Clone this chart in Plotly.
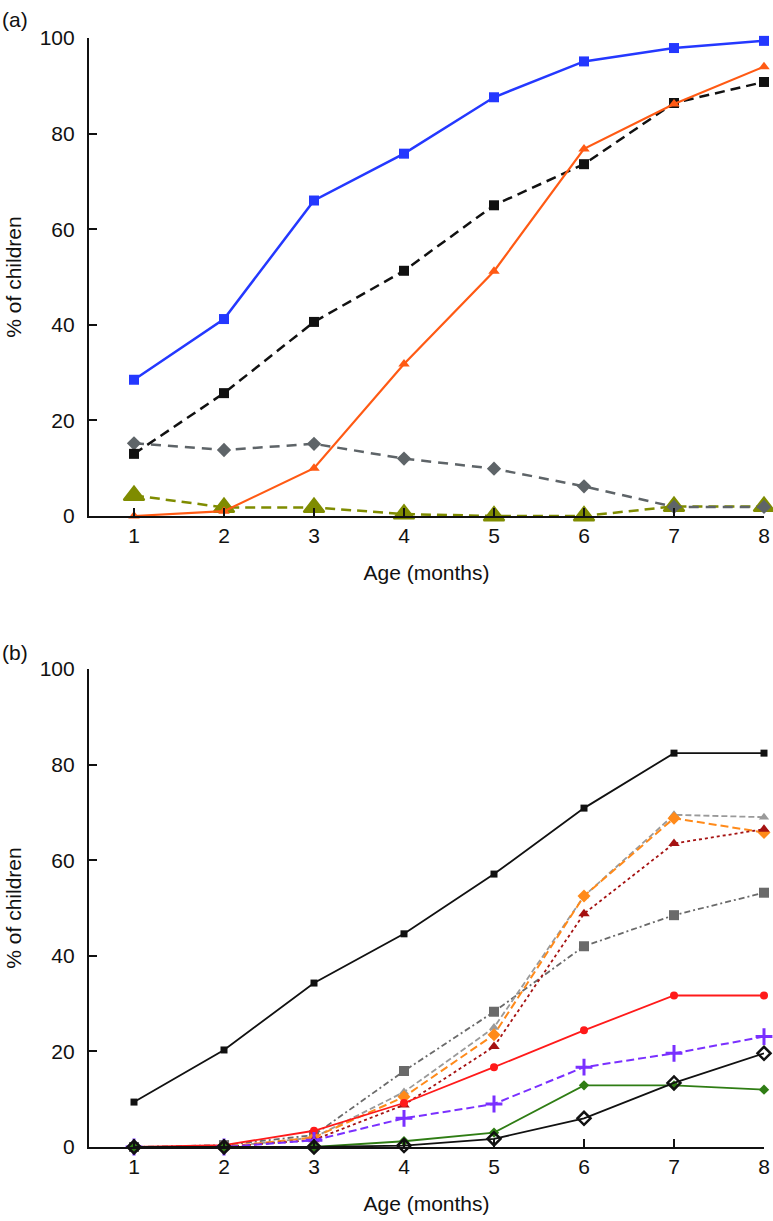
import plotly.graph_objects as go

ages = [1, 2, 3, 4, 5, 6, 7, 8]
x_tick_labels = ["1", "2", "3", "4", "5", "6", "7", "8"]
y_ticks = [0, 20, 40, 60, 80, 100]

# Panel (a)
a_blue = [28.5, 41.2, 66.0, 75.8, 87.6, 95.1, 97.9, 99.4]
a_black = [13.0, 25.7, 40.6, 51.3, 65.0, 73.6, 86.4, 90.8]
a_orange = [0.0, 1.0, 10.0, 31.8, 51.2, 76.8, 86.2, 94.0]
a_gray = [15.2, 13.8, 15.1, 12.0, 9.9, 6.2, 1.9, 1.9]
a_olive = [4.3, 1.8, 1.8, 0.4, 0.0, 0.0, 2.0, 2.0]

# Panel (b)
b_black = [9.4, 20.3, 34.3, 44.6, 57.1, 70.9, 82.4, 82.4]
b_gray_sq = [0.0, 0.4, 2.5, 15.9, 28.3, 42.0, 48.5, 53.2]
b_lgray_tri = [0.0, 0.0, 2.0, 11.5, 25.0, 52.5, 69.5, 69.0]
b_orange = [0.0, 0.0, 2.0, 10.5, 23.5, 52.5, 68.8, 65.8]
b_darkred = [0.0, 0.0, 1.5, 8.8, 21.0, 48.8, 63.5, 66.5]
b_red = [0.0, 0.4, 3.4, 9.2, 16.7, 24.4, 31.7, 31.7]
b_purple = [0.0, 0.0, 1.4, 6.0, 9.0, 16.7, 19.6, 23.1]
b_green = [0.0, 0.0, 0.0, 1.2, 3.0, 12.9, 12.9, 12.0]
b_open = [0.0, 0.0, 0.0, 0.3, 1.7, 6.0, 13.4, 19.6]

fig = go.Figure()

def add(y, color, symbol, size, dash, width, axis, mline=None):
    xa, ya = axis
    marker = dict(symbol=symbol, size=size, color=color)
    if mline:
        marker["line"] = mline
    fig.add_trace(go.Scatter(
        x=ages, y=y, mode="lines+markers",
        line=dict(color=color, width=width, dash=dash),
        marker=marker, xaxis=xa, yaxis=ya, cliponaxis=False,
        showlegend=False, hoverinfo="x+y"))

A = ("x", "y")
B = ("x2", "y2")

add(a_olive, "#7f8c00", "triangle-up", 18, "10px,6px", 2.5, A,
    mline=dict(color="#7f8c00", width=2))
add(a_gray, "#5e6468", "diamond", 11, "10px,7px", 2.5, A)
add(a_black, "#111111", "square", 10, "10px,6px", 2.5, A)
add(a_orange, "#ff5a14", "triangle-up", 10, "solid", 2.2, A)
add(a_blue, "#2438ff", "square", 10, "solid", 2.5, A)

add(b_black, "#111111", "square", 7, "solid", 1.8, B)
add(b_gray_sq, "#6a6a6a", "square", 10, "6px,3px,2px,3px", 1.8, B)
add(b_lgray_tri, "#9a9a9a", "triangle-up", 9, "6px,3px", 1.8, B)
add(b_orange, "#ff8a1a", "diamond", 10, "8px,4px", 2.0, B)
add(b_darkred, "#a51212", "triangle-up", 10, "3px,3px", 1.8, B)
add(b_red, "#ff1a1a", "circle", 8, "solid", 1.8, B)
add(b_purple, "#7a30ff", "cross-thin", 12, "8px,4px", 2.0, B,
    mline=dict(color="#7a30ff", width=3))
add(b_green, "#2f7d14", "diamond", 8, "solid", 1.8, B)
add(b_open, "#111111", "diamond-open", 10, "solid", 1.8, B,
    mline=dict(color="#111111", width=2.5))

font = dict(family="Liberation Sans, Arial, sans-serif", size=21, color="#111111")

xcommon = dict(range=[0.5, 8.0], tickvals=ages, ticktext=x_tick_labels,
               showline=True, linecolor="#111111", linewidth=2.2,
               ticks="inside", ticklen=8, tickwidth=2, tickcolor="#111111",
               showgrid=False, zeroline=False, tickfont=font,
               ticklabelstandoff=0, automargin=False,
               title=dict(text="Age (months)", font=font, standoff=19))
ycommon = dict(range=[0, 100], tickvals=y_ticks,
               showline=True, linecolor="#111111", linewidth=2.2,
               ticks="inside", ticklen=8, tickwidth=2, tickcolor="#111111",
               showgrid=False, zeroline=False, tickfont=font,
               ticklabelstandoff=8, automargin=False,
               title=dict(text="% of children", font=font, standoff=12))

fig.update_layout(
    width=773, height=1221,
    margin=dict(l=89, r=9, t=38, b=74),
    paper_bgcolor="white", plot_bgcolor="white",
    font=font,
    xaxis=dict(domain=[0, 1], anchor="y", **xcommon),
    yaxis=dict(domain=[0.569, 1.0], anchor="x", **ycommon),
    xaxis2=dict(domain=[0, 1], anchor="y2", **xcommon),
    yaxis2=dict(domain=[0.0, 0.431], anchor="x2", **ycommon),
    annotations=[
        dict(text="(a)", xref="paper", yref="paper", x=-89/675, y=(1147-20)/1109,
             xanchor="left", yanchor="middle", showarrow=False, font=font),
        dict(text="(b)", xref="paper", yref="paper", x=-89/675, y=(1147-652)/1109,
             xanchor="left", yanchor="middle", showarrow=False, font=font),
    ],
)

fig.write_html("out.html", config={"displayModeBar": False},
               post_script="document.body.style.margin='0';document.body.style.overflow='hidden';")
